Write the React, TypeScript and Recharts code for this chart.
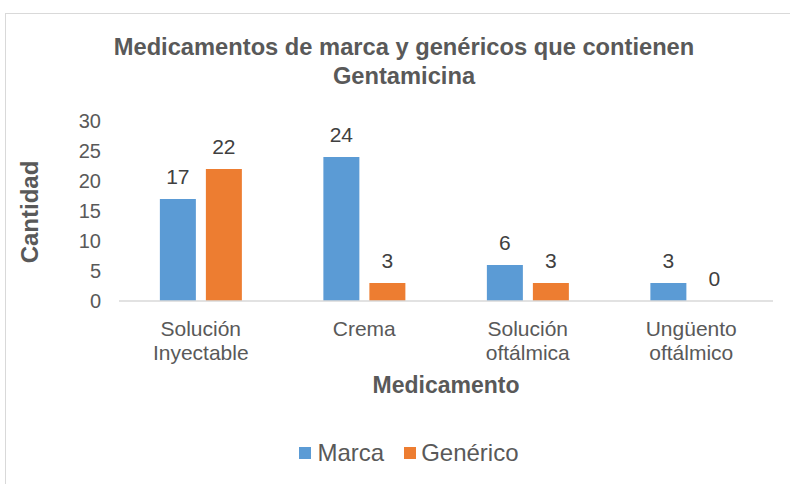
import { BarChart, Bar, XAxis, YAxis } from 'recharts';

const categories = ['Solución Inyectable', 'Crema', 'Solución oftálmica', 'Ungüento oftálmico'];
const marca = [17, 24, 6, 3];
const generico = [22, 3, 3, 0];
const yTicks = [0, 5, 10, 15, 20, 25, 30];

const data = categories.map((name, i) => ({ name, marca: marca[i], generico: generico[i] }));

const FONT = '"Liberation Sans", Arial, sans-serif';
const TEXT = '#595959';

function CategoryTick({ x, y, payload }: any) {
  const lines = String(payload.value).split(' ');
  return (
    <text x={x} y={y} textAnchor="middle" fill={TEXT} fontSize={21} fontFamily={FONT}>
      {lines.map((l, i) => (
        <tspan key={i} x={x} dy={i === 0 ? 27 : 24}>{l}</tspan>
      ))}
    </text>
  );
}

function ValueLabel(props: any) {
  const { x, y, width, value } = props;
  return (
    <text x={Number(x) + Number(width) / 2} y={Number(y) - 15} textAnchor="middle" fill="#404040" fontSize={21} fontFamily={FONT}>
      {String(value)}
    </text>
  );
}

// keep zero-value bars in the layout so their "0" label is drawn
const keepZero = (v: any) => (Number(v) === 0 ? 0.001 : 0);

export default function App() {
  return (
    <div style={{ position: 'absolute', left: 0, top: 0, width: 790, height: 484, overflow: 'hidden', background: '#fff', fontFamily: FONT }}>
      <div style={{ position: 'absolute', left: 5, top: 13, width: 800, height: 500, border: '1px solid #d9d9d9' }} />
      <div style={{ position: 'absolute', left: 0, top: 33, width: 808, textAlign: 'center', color: TEXT, fontSize: 23.7, fontWeight: 'bold', lineHeight: '29px' }}>
        Medicamentos de marca y genéricos que contienen<br />Gentamicina
      </div>
      <BarChart
        width={790}
        height={484}
        data={data}
        margin={{ top: 121, right: 17, left: 20, bottom: 103 }}
        barCategoryGap="25%"
        barGap={10}
        style={{ position: 'absolute', left: 0, top: 0 }}
      >
        <XAxis
          dataKey="name"
          tick={<CategoryTick />}
          tickLine={false}
          axisLine={{ stroke: '#d9d9d9', strokeWidth: 1.5 }}
          height={80}
          interval={0}
        />
        <YAxis
          domain={[0, 30]}
          ticks={yTicks}
          width={99}
          axisLine={false}
          tickLine={false}
          tickSize={0}
          tickMargin={18}
          tick={{ fill: TEXT, fontSize: 20, fontFamily: FONT }}
        />
        <Bar dataKey="marca" name="Marca" fill="#5B9BD5" isAnimationActive={false} label={ValueLabel} minPointSize={keepZero} />
        <Bar dataKey="generico" name="Genérico" fill="#ED7D31" isAnimationActive={false} label={ValueLabel} minPointSize={keepZero} />
      </BarChart>
      <div style={{ position: 'absolute', left: 346, top: 370, width: 200, textAlign: 'center', color: TEXT, fontSize: 23, fontWeight: 'bold', lineHeight: '30px' }}>
        Medicamento
      </div>
      <div style={{ position: 'absolute', left: 30, top: 212, width: 0, height: 0 }}>
        <div style={{ position: 'absolute', left: -100, top: -15, width: 200, textAlign: 'center', color: TEXT, fontSize: 24, fontWeight: 'bold', lineHeight: '30px', transform: 'rotate(-90deg)' }}>
          Cantidad
        </div>
      </div>
      <div style={{ position: 'absolute', left: 0, top: 438, width: 818, display: 'flex', justifyContent: 'center', alignItems: 'center', color: TEXT, fontSize: 24, lineHeight: '30px' }}>
        <span style={{ display: 'inline-block', width: 12, height: 12, background: '#5B9BD5', marginRight: 6 }} />
        <span style={{ marginRight: 20 }}>Marca</span>
        <span style={{ display: 'inline-block', width: 12, height: 12, background: '#ED7D31', marginRight: 5 }} />
        <span>Genérico</span>
      </div>
    </div>
  );
}
